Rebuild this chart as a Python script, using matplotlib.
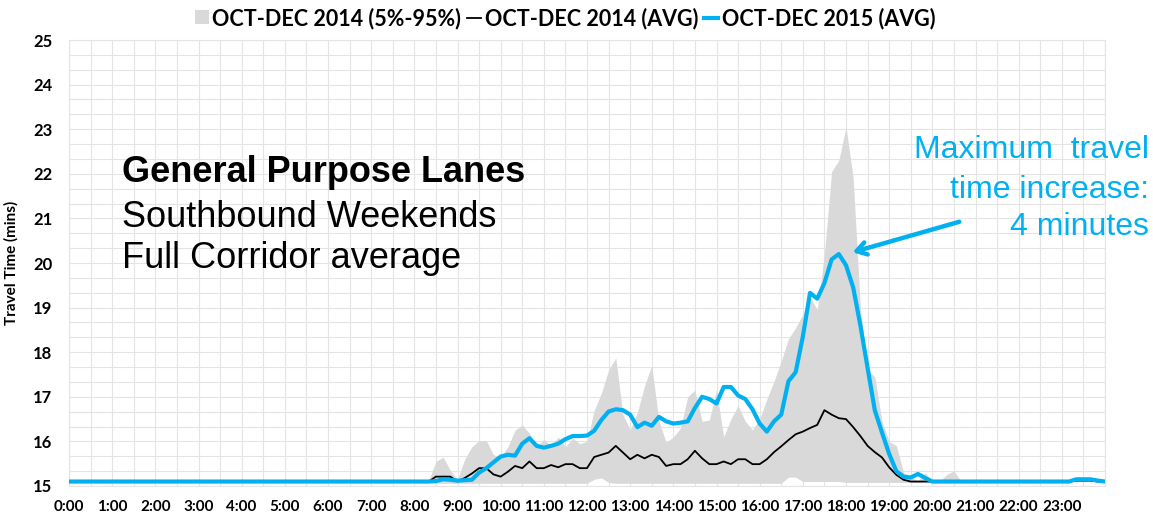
import numpy as np
import matplotlib
matplotlib.use('Agg')
import matplotlib.pyplot as plt
from matplotlib.patches import Patch
from matplotlib.lines import Line2D

# 10-minute slots, 0:00 .. 24:00 (one row per hour)
avg_2015 = [
    15.10, 15.10, 15.10, 15.10, 15.10, 15.10,  # 0
    15.10, 15.10, 15.10, 15.10, 15.10, 15.10,  # 1
    15.10, 15.10, 15.10, 15.10, 15.10, 15.10,  # 2
    15.10, 15.10, 15.10, 15.10, 15.10, 15.10,  # 3
    15.10, 15.10, 15.10, 15.10, 15.10, 15.10,  # 4
    15.10, 15.10, 15.10, 15.10, 15.10, 15.10,  # 5
    15.10, 15.10, 15.10, 15.10, 15.10, 15.10,  # 6
    15.10, 15.10, 15.10, 15.10, 15.10, 15.10,  # 7
    15.10, 15.10, 15.10, 15.11, 15.15, 15.14,  # 8
    15.12, 15.13, 15.14, 15.30, 15.40, 15.53,  # 9
    15.66, 15.70, 15.68, 15.95, 16.07, 15.90,  # 10
    15.86, 15.90, 15.95, 16.05, 16.12, 16.12,  # 11
    16.13, 16.24, 16.48, 16.67, 16.72, 16.70,  # 12
    16.60, 16.32, 16.42, 16.35, 16.55, 16.45,  # 13
    16.40, 16.42, 16.45, 16.75, 17.00, 16.95,  # 14
    16.85, 17.22, 17.22, 17.03, 16.95, 16.72,  # 15
    16.40, 16.22, 16.45, 16.60, 17.35, 17.55,  # 16
    18.35, 19.33, 19.20, 19.55, 20.08, 20.20,  # 17
    19.95, 19.45, 18.60, 17.65, 16.70, 16.20,  # 18
    15.72, 15.33, 15.21, 15.19, 15.27, 15.18,  # 19
    15.10, 15.10, 15.10, 15.10, 15.10, 15.10,  # 20
    15.10, 15.10, 15.10, 15.10, 15.10, 15.10,  # 21
    15.10, 15.10, 15.10, 15.10, 15.10, 15.10,  # 22
    15.10, 15.10, 15.15, 15.15, 15.15, 15.12,  # 23
    15.10,
]

avg_2014 = [
    15.10, 15.10, 15.10, 15.10, 15.10, 15.10,  # 0
    15.10, 15.10, 15.10, 15.10, 15.10, 15.10,  # 1
    15.10, 15.10, 15.10, 15.10, 15.10, 15.10,  # 2
    15.10, 15.10, 15.10, 15.10, 15.10, 15.10,  # 3
    15.10, 15.10, 15.10, 15.10, 15.10, 15.10,  # 4
    15.10, 15.10, 15.10, 15.10, 15.10, 15.10,  # 5
    15.10, 15.10, 15.10, 15.10, 15.10, 15.10,  # 6
    15.10, 15.10, 15.10, 15.10, 15.10, 15.10,  # 7
    15.10, 15.10, 15.10, 15.21, 15.21, 15.21,  # 8
    15.10, 15.18, 15.28, 15.40, 15.40, 15.26,  # 9
    15.21, 15.32, 15.45, 15.40, 15.55, 15.40,  # 10
    15.40, 15.47, 15.42, 15.49, 15.49, 15.40,  # 11
    15.40, 15.65, 15.70, 15.75, 15.90, 15.75,  # 12
    15.60, 15.70, 15.62, 15.70, 15.65, 15.45,  # 13
    15.49, 15.49, 15.60, 15.79, 15.62, 15.49,  # 14
    15.49, 15.55, 15.49, 15.60, 15.60, 15.49,  # 15
    15.49, 15.60, 15.76, 15.89, 16.03, 16.16,  # 16
    16.22, 16.30, 16.37, 16.70, 16.60, 16.52,  # 17
    16.50, 16.32, 16.12, 15.90, 15.76, 15.64,  # 18
    15.42, 15.25, 15.14, 15.10, 15.10, 15.10,  # 19
    15.10, 15.10, 15.10, 15.10, 15.10, 15.10,  # 20
    15.10, 15.10, 15.10, 15.10, 15.10, 15.10,  # 21
    15.10, 15.10, 15.10, 15.10, 15.10, 15.10,  # 22
    15.10, 15.10, 15.12, 15.12, 15.12, 15.10,  # 23
    15.10,
]

# 95th percentile 2014
p95_2014 = [
    15.10, 15.10, 15.10, 15.10, 15.10, 15.10,  # 0
    15.10, 15.10, 15.10, 15.10, 15.10, 15.10,  # 1
    15.10, 15.10, 15.10, 15.10, 15.10, 15.10,  # 2
    15.10, 15.10, 15.10, 15.10, 15.10, 15.10,  # 3
    15.10, 15.10, 15.10, 15.10, 15.10, 15.10,  # 4
    15.10, 15.10, 15.10, 15.10, 15.10, 15.10,  # 5
    15.10, 15.10, 15.10, 15.10, 15.10, 15.10,  # 6
    15.10, 15.10, 15.10, 15.10, 15.10, 15.10,  # 7
    15.10, 15.10, 15.12, 15.55, 15.65, 15.35,  # 8
    15.15, 15.60, 15.88, 16.02, 16.02, 15.70,  # 9
    15.65, 15.88, 16.25, 16.37, 16.18, 15.88,  # 10
    16.05, 15.90, 16.10, 15.88, 16.07, 15.95,  # 11
    16.00, 16.70, 17.08, 17.60, 17.87, 16.60,  # 12
    16.26, 16.65, 17.25, 17.70, 16.45, 15.98,  # 13
    16.10, 16.30, 17.00, 17.15, 16.45, 16.48,  # 14
    17.15, 16.10, 16.50, 16.80, 16.45, 16.26,  # 15
    16.50, 16.95, 17.35, 17.80, 18.30, 18.55,  # 16
    18.85, 19.25, 18.95, 20.20, 22.05, 22.30,  # 17
    23.05, 21.90, 19.00, 17.60, 17.45, 16.45,  # 18
    16.00, 15.90, 15.30, 15.20, 15.12, 15.30,  # 19
    15.10, 15.10, 15.26, 15.34, 15.10, 15.10,  # 20
    15.10, 15.10, 15.10, 15.10, 15.10, 15.10,  # 21
    15.10, 15.10, 15.10, 15.10, 15.10, 15.10,  # 22
    15.10, 15.10, 15.10, 15.10, 15.10, 15.10,  # 23
    15.10,
]

# 5th percentile 2014
p05_2014 = [
    15.10, 15.10, 15.10, 15.10, 15.10, 15.10,  # 0
    15.10, 15.10, 15.10, 15.10, 15.10, 15.10,  # 1
    15.10, 15.10, 15.10, 15.10, 15.10, 15.10,  # 2
    15.10, 15.10, 15.10, 15.10, 15.10, 15.10,  # 3
    15.10, 15.10, 15.10, 15.10, 15.10, 15.10,  # 4
    15.10, 15.10, 15.10, 15.10, 15.10, 15.10,  # 5
    15.10, 15.10, 15.10, 15.10, 15.10, 15.10,  # 6
    15.10, 15.10, 15.10, 15.10, 15.10, 15.10,  # 7
    15.10, 15.10, 15.10, 15.06, 15.06, 15.06,  # 8
    15.06, 15.06, 15.06, 15.06, 15.06, 15.06,  # 9
    15.06, 15.06, 15.06, 15.06, 15.06, 15.06,  # 10
    15.06, 15.06, 15.06, 15.06, 15.06, 15.06,  # 11
    15.06, 15.15, 15.18, 15.08, 15.06, 15.06,  # 12
    15.06, 15.06, 15.06, 15.06, 15.06, 15.06,  # 13
    15.06, 15.06, 15.06, 15.06, 15.06, 15.06,  # 14
    15.06, 15.06, 15.06, 15.06, 15.06, 15.06,  # 15
    15.06, 15.06, 15.06, 15.06, 15.20, 15.20,  # 16
    15.10, 15.10, 15.10, 15.10, 15.10, 15.10,  # 17
    15.08, 15.08, 15.08, 15.08, 15.08, 15.08,  # 18
    15.08, 15.08, 15.08, 15.08, 15.08, 15.08,  # 19
    15.08, 15.08, 15.08, 15.08, 15.10, 15.10,  # 20
    15.10, 15.10, 15.10, 15.10, 15.10, 15.10,  # 21
    15.10, 15.10, 15.10, 15.10, 15.10, 15.10,  # 22
    15.10, 15.10, 15.10, 15.10, 15.10, 15.10,  # 23
    15.10,
]

hour_labels = ['%d:00' % h for h in range(24)]
legend_labels = ['OCT-DEC 2014 (5%-95%)', 'OCT-DEC 2014 (AVG)', 'OCT-DEC 2015 (AVG)']

BLUE = '#00B0F0'
GRAY = '#D9D9D9'
GRID = '#E4E4E4'

hours = np.arange(len(avg_2015)) / 6.0

fig = plt.figure(figsize=(11.53, 5.15), dpi=100)
ax = fig.add_axes([69 / 1153, 29 / 515, 1036 / 1153, 446 / 515])

ax.fill_between(hours, p05_2014, p95_2014, color=GRAY, lw=0, zorder=2)
ax.plot(hours, avg_2014, color='black', lw=1.3, zorder=3)
ax.plot(hours, avg_2015, color=BLUE, lw=3.0, zorder=4, solid_joinstyle='round')

ax.set_xlim(0, 24)
ax.set_ylim(15, 25)
ax.set_xticks(range(24))
ax.set_xticklabels(hour_labels)
ax.set_xticks(np.arange(0, 24.01, 0.5), minor=True)
ax.set_yticks(range(15, 26))
ax.set_yticks(np.arange(15, 25.01, 1 / 3), minor=True)
ax.grid(True, which='both', color=GRID, lw=0.8, zorder=0)
ax.set_axisbelow(True)
ax.tick_params(which='both', length=0)
ax.tick_params(axis='x', pad=10)
ax.tick_params(axis='y', pad=12)
for lbl in ax.get_xticklabels():
    lbl.set_fontfamily('Lato')
    lbl.set_fontweight('bold')
    lbl.set_fontsize(11)
for lbl in ax.get_yticklabels():
    lbl.set_fontfamily('Lato')
    lbl.set_fontweight('bold')
    lbl.set_fontsize(12)
for s in ax.spines.values():
    s.set_color(GRID)

ax.set_ylabel('Travel Time (mins)', family='Lato', weight='bold', fontsize=11)
ax.yaxis.set_label_coords(-0.049, 0.5)

# title block
ax.text(0.051, 0.682, 'General Purpose Lanes', transform=ax.transAxes,
        family='Liberation Sans', weight='bold', fontsize=26, va='baseline')
ax.text(0.051, 0.581, 'Southbound Weekends', transform=ax.transAxes,
        family='Liberation Sans', fontsize=26, va='baseline')
ax.text(0.051, 0.488, 'Full Corridor average', transform=ax.transAxes,
        family='Liberation Sans', fontsize=26, va='baseline')

# callout
for txt, y in [('Maximum  travel', 0.6926), ('time increase:', 0.615), ('4 minutes', 0.5437)]:
    fig.text(0.9965, y, txt, ha='right', va='baseline', color=BLUE,
             family='Liberation Sans', fontsize=23)
ax.annotate('', xy=(850 / 1153, 262 / 515), xycoords='figure fraction',
            xytext=(962 / 1153, 294 / 515), textcoords='figure fraction',
            arrowprops=dict(arrowstyle='->,head_length=0.7,head_width=0.45',
                            color=BLUE, lw=3.2), zorder=6)

handles = [Patch(facecolor=GRAY, edgecolor='none'),
           Line2D([], [], color='black', lw=1.3),
           Line2D([], [], color=BLUE, lw=3)]
leg = fig.legend(handles, legend_labels, loc='center', bbox_to_anchor=(0.49, 0.965),
                 ncol=3, frameon=False, handlelength=0.65, handleheight=0.65,
                 handletextpad=0.15, columnspacing=0.3,
                 prop={'family': 'Lato', 'weight': 'bold', 'size': 15.5})

fig.savefig('out.png', dpi=100, facecolor='white')
